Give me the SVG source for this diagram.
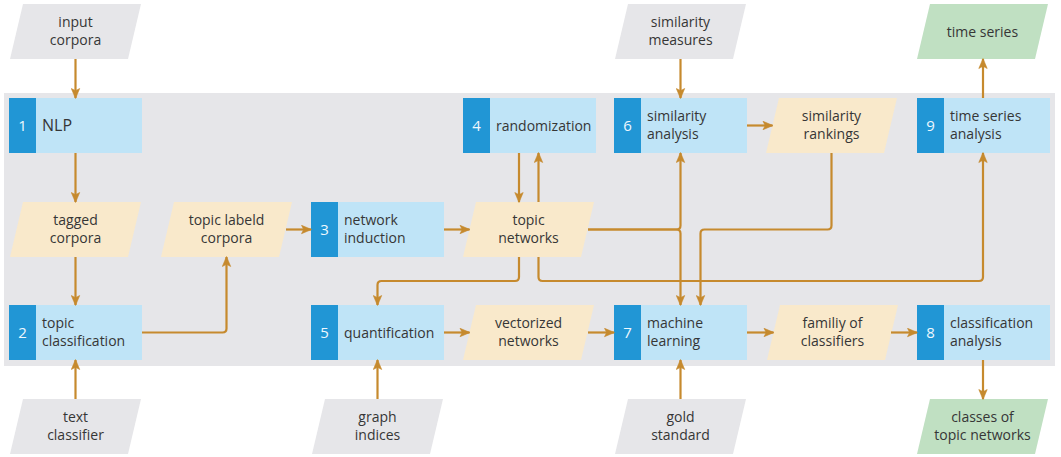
<svg xmlns="http://www.w3.org/2000/svg" width="1061" height="457" viewBox="0 0 1061 457">
<style>
.panel{fill:#e6e6e9}
.box{fill:#bfe4f7}
.tab{fill:#2196d5}
.data{fill:#f9e9cb}
.input{fill:#e6e6e9}
.output{fill:#c0e0c2}
text{font-family:"Open Sans","Liberation Sans",sans-serif;font-size:14px;fill:#363636}
.num{fill:#eef8fe;font-size:15px;text-anchor:middle}
.c{text-anchor:middle}
.big{font-size:16px}
.conn path{fill:none;stroke:#c68a2e;stroke-width:2.2;marker-end:url(#ah)}
</style>
<defs>
<marker id="ah" markerUnits="userSpaceOnUse" viewBox="-1 -5 12 10" markerWidth="12" markerHeight="10" refX="9.5" refY="0" orient="auto">
<path d="M0,-4.2 L10,0 L0,4.2 L2.2,0 z" fill="#c68a2e" stroke="#c68a2e" stroke-width="0.6" stroke-linejoin="round"/>
</marker>
</defs>
<rect class="panel" x="4" y="93" width="1051" height="273"/>

<g id="input-corpora"><polygon class="input" points="23,4 141,4 128,59 10,59"/><text class="c" x="75.5" y="26.5">input</text><text class="c" x="75.5" y="45">corpora</text></g>
<g id="similarity-measures"><polygon class="input" points="628,4 746,4 733,59 615,59"/><text class="c" x="680.5" y="26.5">similarity</text><text class="c" x="680.5" y="45">measures</text></g>
<g id="time-series"><polygon class="output" points="930,4 1048,4 1035,59 917,59"/><text class="c" x="982.5" y="37">time series</text></g>

<g id="n1"><rect class="box" x="9" y="98" width="133" height="55"/><rect class="tab" x="9" y="98" width="27" height="55"/><text class="num" x="22.5" y="131">1</text><text class="big" x="42" y="131">NLP</text></g>
<g id="n4"><rect class="box" x="463" y="98" width="133" height="55"/><rect class="tab" x="463" y="98" width="27" height="55"/><text class="num" x="476.5" y="130.5">4</text><text x="496" y="130.5">randomization</text></g>
<g id="n6"><rect class="box" x="614" y="98" width="133" height="55"/><rect class="tab" x="614" y="98" width="27" height="55"/><text class="num" x="627.5" y="130.5">6</text><text x="647" y="120.5">similarity</text><text x="647" y="139">analysis</text></g>
<g id="similarity-rankings"><polygon class="data" points="779,98 897,98 884,153 766,153"/><text class="c" x="831.5" y="120.5">similarity</text><text class="c" x="831.5" y="139">rankings</text></g>
<g id="n9"><rect class="box" x="917" y="98" width="133" height="55"/><rect class="tab" x="917" y="98" width="27" height="55"/><text class="num" x="930.5" y="130.5">9</text><text x="950" y="120.5">time series</text><text x="950" y="139">analysis</text></g>

<g id="tagged-corpora"><polygon class="data" points="23,202 141,202 128,257 10,257"/><text class="c" x="75.5" y="224.5">tagged</text><text class="c" x="75.5" y="243">corpora</text></g>
<g id="topic-labeld-corpora"><polygon class="data" points="174,202 292,202 279,257 161,257"/><text class="c" x="226.5" y="224.5">topic labeld</text><text class="c" x="226.5" y="243">corpora</text></g>
<g id="n3"><rect class="box" x="311" y="202" width="133" height="55"/><rect class="tab" x="311" y="202" width="27" height="55"/><text class="num" x="324.5" y="234.5">3</text><text x="344" y="224.5">network</text><text x="344" y="243">induction</text></g>
<g id="topic-networks"><polygon class="data" points="476,202 594,202 581,257 463,257"/><text class="c" x="528.5" y="224.5">topic</text><text class="c" x="528.5" y="243">networks</text></g>

<g id="n2"><rect class="box" x="9" y="305" width="133" height="55"/><rect class="tab" x="9" y="305" width="27" height="55"/><text class="num" x="22.5" y="337.5">2</text><text x="42" y="327.5">topic</text><text x="42" y="346">classification</text></g>
<g id="n5"><rect class="box" x="311" y="305" width="133" height="55"/><rect class="tab" x="311" y="305" width="27" height="55"/><text class="num" x="324.5" y="337.5">5</text><text x="344" y="337.5">quantification</text></g>
<g id="vectorized-networks"><polygon class="data" points="476,305 594,305 581,360 463,360"/><text class="c" x="528.5" y="327.5">vectorized</text><text class="c" x="528.5" y="346">networks</text></g>
<g id="n7"><rect class="box" x="614" y="305" width="133" height="55"/><rect class="tab" x="614" y="305" width="27" height="55"/><text class="num" x="627.5" y="337.5">7</text><text x="647" y="327.5">machine</text><text x="647" y="346">learning</text></g>
<g id="familiy-of-classifiers"><polygon class="data" points="780,305 898,305 885,360 767,360"/><text class="c" x="832.5" y="327.5">familiy of</text><text class="c" x="832.5" y="346">classifiers</text></g>
<g id="n8"><rect class="box" x="917" y="305" width="133" height="55"/><rect class="tab" x="917" y="305" width="27" height="55"/><text class="num" x="930.5" y="337.5">8</text><text x="950" y="327.5">classification</text><text x="950" y="346">analysis</text></g>

<g id="text-classifier"><polygon class="input" points="23,399 141,399 128,454 10,454"/><text class="c" x="75.5" y="421.5">text</text><text class="c" x="75.5" y="440">classifier</text></g>
<g id="graph-indices"><polygon class="input" points="325,399 443,399 430,454 312,454"/><text class="c" x="377.5" y="421.5">graph</text><text class="c" x="377.5" y="440">indices</text></g>
<g id="gold-standard"><polygon class="input" points="628,399 746,399 733,454 615,454"/><text class="c" x="680.5" y="421.5">gold</text><text class="c" x="680.5" y="440">standard</text></g>
<g id="classes-of-topic-networks"><polygon class="output" points="930,399 1048,399 1035,454 917,454"/><text class="c" x="982.5" y="421.5">classes of</text><text class="c" x="982.5" y="440">topic networks</text></g>

<g class="conn" id="connectors">
<path d="M75.5,59 V98"/>
<path d="M75.5,153 V202"/>
<path d="M75.5,257 V305"/>
<path d="M75.5,399 V360"/>
<path d="M142,332.5 H222.5 Q226.5,332.5 226.5,328.5 V257"/>
<path d="M286,229.5 H311"/>
<path d="M444,229.5 H469.5"/>
<path d="M519,153 V202"/>
<path d="M538.5,202 V153"/>
<path d="M588,229.5 H676.5 Q680.5,229.5 680.5,225.5 V153"/>
<path d="M588,229.5 H676.5 Q680.5,229.5 680.5,233.5 V305"/>
<path d="M831.5,153 V225.5 Q831.5,229.5 827.5,229.5 H704.5 Q700.5,229.5 700.5,233.5 V305"/>
<path d="M519,257 V277 Q519,281 515,281 H381.5 Q377.5,281 377.5,285 V305"/>
<path d="M538.5,257 V277 Q538.5,281 542.5,281 H979 Q983,281 983,277 V153"/>
<path d="M444,332.5 H469.5"/>
<path d="M588,332.5 H614"/>
<path d="M377.5,399 V360"/>
<path d="M680.5,399 V360"/>
<path d="M747,332.5 H773.5"/>
<path d="M891,332.5 H917"/>
<path d="M983,360 V399"/>
<path d="M983,98 V59"/>
<path d="M680.5,59 V98"/>
<path d="M747,125.5 H772.5"/>
</g>
</svg>
